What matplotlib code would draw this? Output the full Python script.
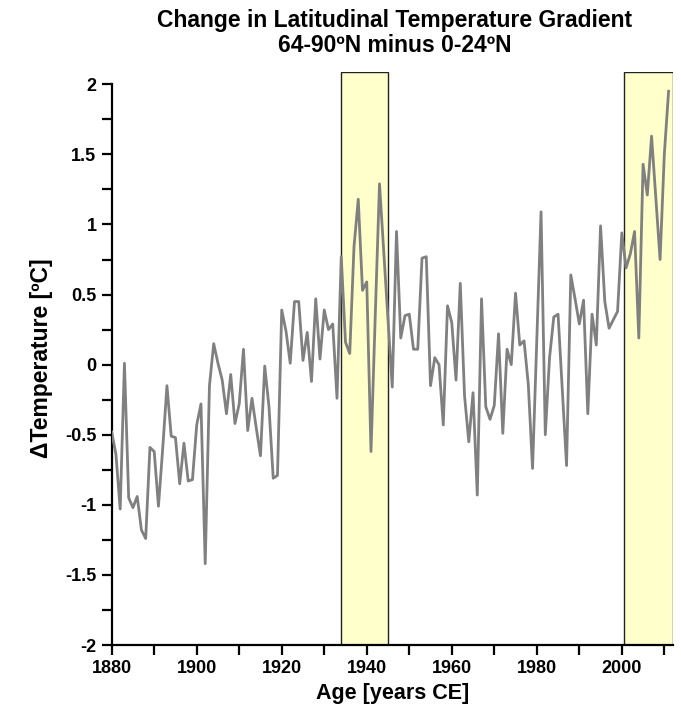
import numpy as np
import matplotlib
matplotlib.use('Agg')
import matplotlib.pyplot as plt

# yearly values, 1880-2011
years = np.arange(1880, 2012)
delta_temp = [
    -0.48, -0.64, -1.03, 0.01, -0.95, -1.02, -0.94, -1.18, -1.24, -0.59,
    -0.62, -1.01, -0.60, -0.15, -0.51, -0.52, -0.85, -0.56, -0.83, -0.82,
    -0.43, -0.28, -1.42, -0.15, 0.15, 0.01, -0.11, -0.35, -0.07, -0.42,
    -0.28, 0.11, -0.47, -0.24, -0.45, -0.65, -0.01, -0.30, -0.81, -0.79,
    0.39, 0.24, 0.01, 0.45, 0.45, 0.03, 0.23, -0.12, 0.47, 0.04,
    0.39, 0.25, 0.29, -0.24, 0.77, 0.16, 0.08, 0.84, 1.18, 0.53,
    0.59, -0.62, 0.35, 1.29, 0.80, 0.32, -0.16, 0.95, 0.19, 0.35,
    0.36, 0.11, 0.11, 0.76, 0.77, -0.15, 0.05, 0.00, -0.43, 0.42,
    0.30, -0.11, 0.58, -0.22, -0.55, -0.20, -0.93, 0.47, -0.30, -0.39,
    -0.29, 0.22, -0.49, 0.11, 0.00, 0.51, 0.14, 0.17, -0.14, -0.74,
    0.17, 1.09, -0.50, 0.05, 0.34, 0.36, -0.18, -0.72, 0.64, 0.47,
    0.29, 0.46, -0.35, 0.36, 0.14, 0.99, 0.45, 0.26, 0.32, 0.38,
    0.94, 0.69, 0.79, 0.95, 0.19, 1.43, 1.21, 1.63, 1.19, 0.75,
    1.50, 1.95,
]

# shaded periods
highlight_spans = [(1934, 1945), (2000.5, 2012)]

fig = plt.figure(figsize=(6.81, 7.12), dpi=100)
ax = fig.add_axes([0.164, 0.094, 0.824, 0.805])

for x0, x1 in highlight_spans:
    ax.axvspan(x0, x1, facecolor='#FFFFCC', edgecolor='#222222', linewidth=1.0, zorder=1)

ax.plot(years, delta_temp, color='#808080', linewidth=2.0, zorder=3)

ax.set_xlim(1880, 2012)
ax.set_ylim(-2, 2.088)

ax.spines['top'].set_visible(False)
ax.spines['right'].set_visible(False)
ax.spines['left'].set_bounds(-2, 2)
ax.spines['left'].set_linewidth(1.6)
ax.spines['bottom'].set_linewidth(1.6)

ax.set_xticks(np.arange(1880, 2001, 20))
ax.set_xticks(np.arange(1890, 2011, 20), minor=True)
ax.set_yticks(np.arange(-2, 2.01, 0.5))
ax.set_yticks(np.arange(-1.75, 2, 0.5), minor=True)
ax.set_yticklabels(['-2', '-1.5', '-1', '-0.5', '0', '0.5', '1', '1.5', '2'])

ax.tick_params(which='both', direction='out', length=7, width=1.6, color='black')
ax.tick_params(axis='both', which='major', labelsize=13, pad=4)
for lbl in ax.get_xticklabels() + ax.get_yticklabels():
    lbl.set_fontweight('bold')
    lbl.set_family('Liberation Sans')

ax.set_xlabel('Age [years CE]', fontsize=15.5, fontweight='bold', family='Liberation Sans', labelpad=4)
ax.set_ylabel('ΔTemperature [ºC]', fontsize=16.5, fontweight='bold', family='Liberation Sans', labelpad=9)

fig.text(0.579, 1 - 20 / 712, 'Change in Latitudinal Temperature Gradient',
         ha='center', va='center', fontsize=16.5, fontweight='bold', family='Liberation Sans')
fig.text(0.579, 1 - 45 / 712, '64-90ºN minus 0-24ºN',
         ha='center', va='center', fontsize=16.5, fontweight='bold', family='Liberation Sans')

fig.savefig('out.png', dpi=100)
